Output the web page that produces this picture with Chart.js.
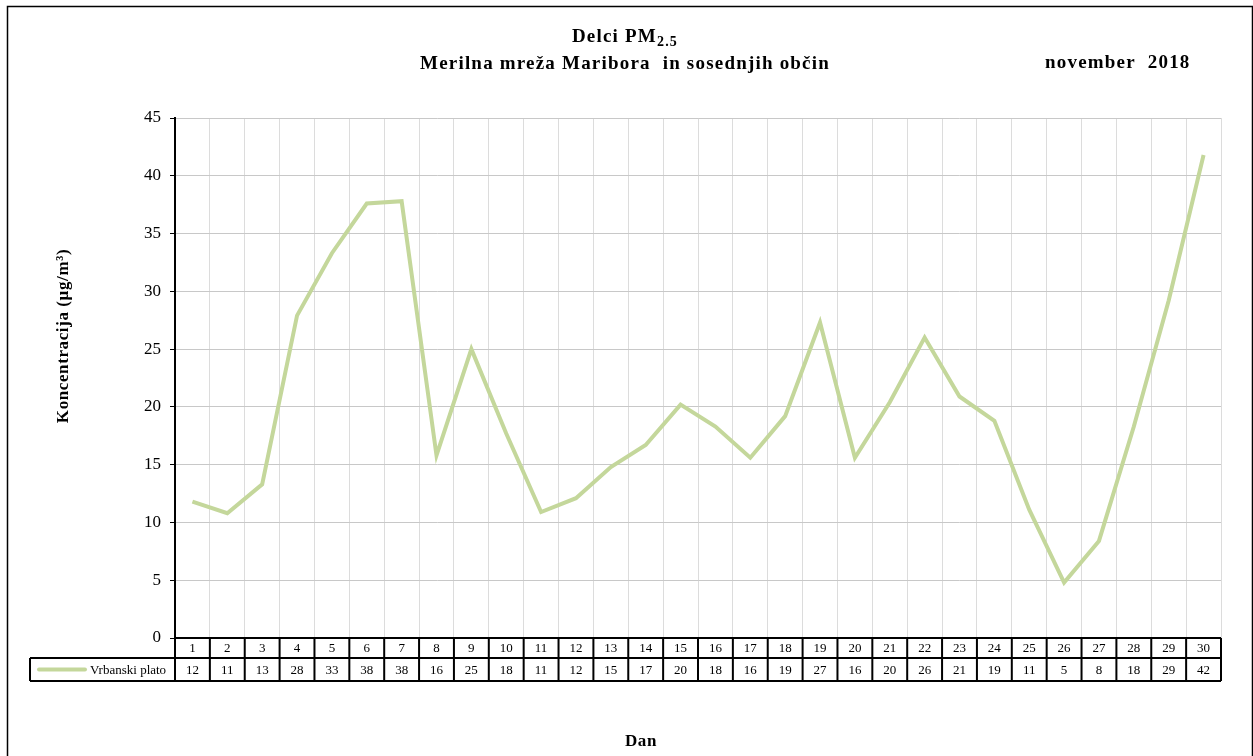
<!DOCTYPE html>
<html>
<head>
<meta charset="utf-8">
<script src="https://cdn.jsdelivr.net/npm/chart.js@4/dist/chart.umd.min.js"></script>
<style>
  body { margin: 0; background: #fff; }
  canvas { display: block; }
</style>
</head>
<body>
<canvas id="pmChart" width="1253" height="756"></canvas>
<script>
const days = ["1","2","3","4","5","6","7","8","9","10","11","12","13","14","15",
              "16","17","18","19","20","21","22","23","24","25","26","27","28","29","30"];
const vrbanskiPlato = [11.8, 10.8, 13.3, 27.9, 33.3, 37.6, 37.8, 15.8, 25.0, 17.7,
                       10.9, 12.1, 14.8, 16.7, 20.2, 18.3, 15.6, 19.2, 27.3, 15.6,
                       20.4, 26.0, 20.9, 18.8, 11.1, 4.8, 8.4, 18.3, 29.2, 41.8];
const vrbanskiPlatoTable = [12, 11, 13, 28, 33, 38, 38, 16, 25, 18, 11, 12, 15, 17, 20,
                            18, 16, 19, 27, 16, 20, 26, 21, 19, 11, 5, 8, 18, 29, 42];
const seriesName = "Vrbanski plato";
const yTicks = [0, 5, 10, 15, 20, 25, 30, 35, 40, 45];

const serif = "'Liberation Serif', 'Times New Roman', serif";
const lineColor = "#c4d79b";

const tablePlugin = {
    id: "tablePlugin",
    afterDraw(chart) {
        const ctx = chart.ctx;
        const area = chart.chartArea;
        const x = chart.scales.x;
        const colW = (area.right - area.left) / days.length;
        const row1Top = area.bottom, row1Bot = area.bottom + 20;
        const row2Bot = row1Bot + 23;
        const legendLeft = 30;

        ctx.save();
        // outer frame
        ctx.strokeStyle = "#000";
        ctx.lineWidth = 1.5;
        ctx.strokeRect(7.5, 6.5, 1245, 800);

        // titles
        ctx.fillStyle = "#000";
        ctx.textBaseline = "alphabetic";
        ctx.letterSpacing = "1.2px";
        ctx.font = "bold 14px " + serif;
        const subW = ctx.measureText("2.5").width;
        ctx.font = "bold 19px " + serif;
        const t1 = "Delci PM";
        const t1W = ctx.measureText(t1).width;
        const t1x = 625 - (t1W + subW) / 2;
        ctx.textAlign = "left";
        ctx.fillText(t1, t1x, 42);
        ctx.font = "bold 14px " + serif;
        ctx.fillText("2.5", t1x + t1W, 46);
        ctx.font = "bold 19px " + serif;
        ctx.textAlign = "center";
        ctx.fillText("Merilna mreža Maribora  in sosednjih občin", 625, 69);
        ctx.textAlign = "left";
        ctx.fillText("november  2018", 1045, 68);

        // axis titles
        ctx.letterSpacing = "0.6px";
        ctx.font = "bold 17px " + serif;
        ctx.textAlign = "center";
        ctx.fillText("Dan", 641, 746);
        ctx.save();
        ctx.translate(68, 336);
        ctx.rotate(-Math.PI / 2);
        ctx.fillText("Koncentracija (µg/m³)", 0, 0);
        ctx.restore();
        ctx.letterSpacing = "0px";

        // data table
        ctx.strokeStyle = "#000";
        ctx.lineWidth = 2;
        ctx.beginPath();
        ctx.moveTo(area.left, row1Top); ctx.lineTo(area.right, row1Top);
        ctx.moveTo(legendLeft, row1Bot); ctx.lineTo(area.right, row1Bot);
        ctx.moveTo(legendLeft, row2Bot); ctx.lineTo(area.right, row2Bot);
        ctx.moveTo(legendLeft, row1Bot); ctx.lineTo(legendLeft, row2Bot);
        for (let i = 0; i <= days.length; i++) {
            const bx = area.left + i * colW;
            ctx.moveTo(bx, row1Top); ctx.lineTo(bx, row2Bot);
        }
        ctx.stroke();

        ctx.font = "13px " + serif;
        ctx.textAlign = "center";
        ctx.textBaseline = "middle";
        days.forEach((d, i) => {
            const cx = x.getPixelForValue(i);
            ctx.fillText(d, cx, (row1Top + row1Bot) / 2 + 1);
            ctx.fillText(String(vrbanskiPlatoTable[i]), cx, (row1Bot + row2Bot) / 2 + 1);
        });

        // legend cell
        ctx.strokeStyle = lineColor;
        ctx.lineWidth = 4;
        ctx.lineCap = "round";
        ctx.beginPath();
        ctx.moveTo(39, (row1Bot + row2Bot) / 2);
        ctx.lineTo(85, (row1Bot + row2Bot) / 2);
        ctx.stroke();
        ctx.fillStyle = "#000";
        ctx.font = "13px " + serif;
        ctx.textAlign = "left";
        ctx.fillText(seriesName, 90, (row1Bot + row2Bot) / 2 + 1);
        ctx.restore();
    }
};

new Chart(document.getElementById("pmChart").getContext("2d"), {
    type: "line",
    data: {
        labels: days,
        datasets: [{
            label: seriesName,
            data: vrbanskiPlato,
            borderColor: lineColor,
            borderWidth: 4,
            pointRadius: 0,
            tension: 0,
            fill: false
        }]
    },
    options: {
        responsive: false,
        animation: false,
        layout: { padding: { left: 0, top: 118, right: 32, bottom: 118 } },
        plugins: {
            legend: { display: false },
            title: { display: false },
            tooltip: { enabled: false }
        },
        scales: {
            x: {
                offset: true,
                grid: { offset: true, color: "#dcdcdc", lineWidth: 1, drawTicks: false },
                border: { display: false },
                ticks: { display: false },
                afterFit: s => { s.height = 0; }
            },
            y: {
                min: 0,
                max: 45,
                afterFit: s => { s.width = 175; },
                afterBuildTicks: s => { s.ticks = yTicks.map(v => ({ value: v })); },
                grid: { color: "#c8c8c8", tickColor: "#000", tickLength: 5 },
                border: { color: "#000", width: 2 },
                ticks: {
                    color: "#000",
                    padding: 9,
                    font: { family: serif, size: 17 }
                }
            }
        }
    },
    plugins: [tablePlugin]
});
</script>
</body>
</html>
